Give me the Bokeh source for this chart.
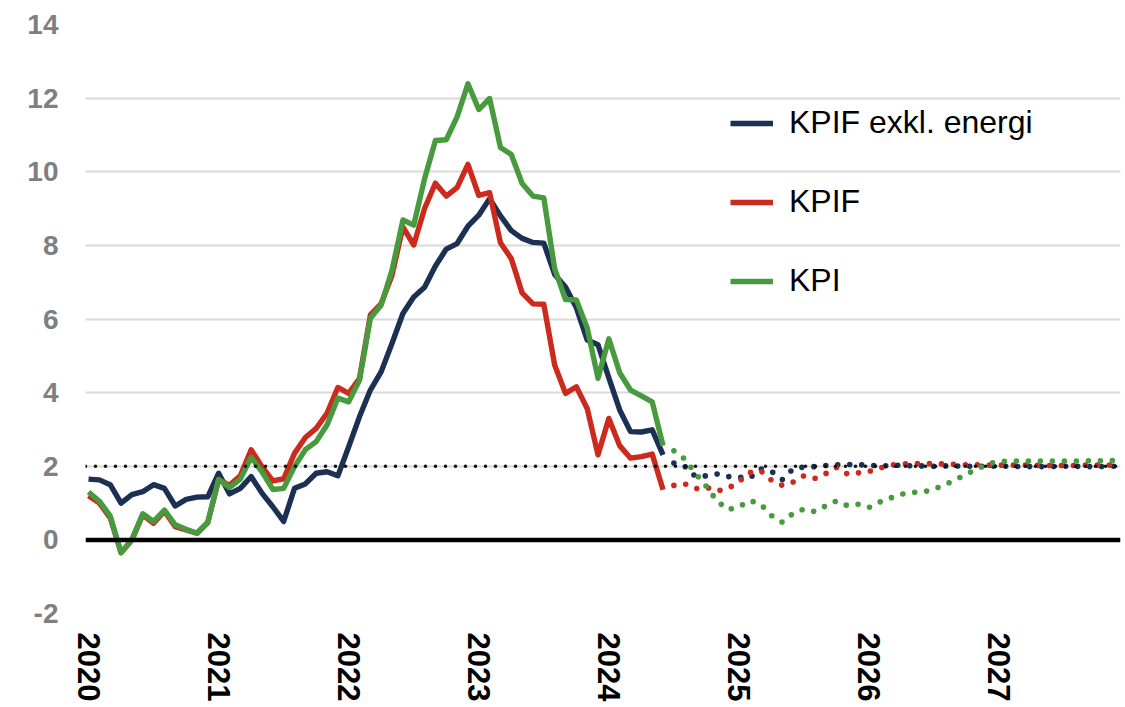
from bokeh.plotting import figure
from bokeh.models import Span, Legend, LegendItem, FixedTicker, Range1d
from bokeh.embed import file_html
from bokeh.resources import INLINE

# ---------------- data ----------------
YEARS = [2020, 2021, 2022, 2023, 2024, 2025, 2026, 2027]
Y_TICKS = [-2, 0, 2, 4, 6, 8, 10, 12, 14]
TARGET = 2.0

# Outcomes, monthly Jan 2020 - Jun 2024
kpif_exkl_energi = [
    1.65, 1.63, 1.50, 1.00, 1.23, 1.31, 1.50, 1.40, 0.92, 1.10, 1.16, 1.17,
    1.81, 1.25, 1.40, 1.72, 1.27, 0.90, 0.50, 1.40, 1.52, 1.81, 1.85, 1.74,
    2.53, 3.35, 4.07, 4.57, 5.34, 6.15, 6.60, 6.86, 7.44, 7.90, 8.05, 8.52,
    8.82, 9.27, 8.80, 8.40, 8.19, 8.08, 8.06, 7.21, 6.87, 6.31, 5.43, 5.30,
    4.40, 3.53, 2.94, 2.93, 2.99, 2.31,
]
kpif = [
    1.20, 1.00, 0.60, -0.35, 0.00, 0.68, 0.45, 0.78, 0.36, 0.27, 0.18, 0.47,
    1.64, 1.48, 1.74, 2.45, 1.99, 1.60, 1.66, 2.35, 2.78, 3.03, 3.44, 4.14,
    3.98, 4.39, 6.11, 6.42, 7.19, 8.50, 8.01, 9.00, 9.69, 9.34, 9.57, 10.20,
    9.36, 9.43, 8.07, 7.64, 6.71, 6.41, 6.40, 4.75, 3.98, 4.16, 3.57, 2.31,
    3.30, 2.56, 2.22, 2.26, 2.33, 1.36,
]
kpi = [
    1.30, 1.05, 0.65, -0.35, 0.00, 0.71, 0.50, 0.81, 0.41, 0.29, 0.18, 0.48,
    1.64, 1.42, 1.65, 2.24, 1.85, 1.37, 1.40, 1.99, 2.45, 2.67, 3.12, 3.85,
    3.75, 4.34, 6.02, 6.38, 7.33, 8.69, 8.55, 9.81, 10.85, 10.87, 11.49, 12.39,
    11.69, 11.99, 10.66, 10.47, 9.68, 9.34, 9.29, 7.37, 6.53, 6.52, 5.76, 4.39,
    5.46, 4.54, 4.07, 3.91, 3.75, 2.56,
]

# Forecasts, monthly Jul 2024 - Dec 2027
kpif_exkl_energi_prognos = [
    2.09, 2.00, 1.72, 1.74, 1.79, 1.72,
    1.70, 1.68, 1.93, 1.86, 1.64, 1.93, 1.98, 1.99, 2.02, 2.04, 2.05, 2.04,
    2.03, 2.01, 2.02, 2.03, 2.01, 2.01, 2.00, 2.01, 2.01, 2.00, 2.00, 2.00,
    2.00, 2.00, 1.99, 1.99, 1.99, 1.99, 2.00, 2.00, 1.99, 1.99, 2.00, 2.00,
]
kpif_prognos = [
    1.48, 1.52, 1.39, 1.43, 1.33, 1.40,
    1.58, 1.83, 1.88, 1.62, 1.48, 1.57, 1.74, 1.67, 1.80, 1.97, 1.79, 1.82,
    1.86, 1.95, 2.03, 2.06, 2.07, 2.07, 2.07, 2.06, 2.05, 2.04, 2.04, 2.03,
    2.03, 2.03, 2.03, 2.03, 2.02, 2.02, 2.02, 2.02, 2.03, 2.03, 2.03, 2.04,
]
kpi_prognos = [
    2.42, 2.20, 1.80, 1.45, 1.05, 0.82,
    0.90, 1.07, 0.97, 0.66, 0.48, 0.72, 0.84, 0.77, 0.92, 1.06, 0.93, 0.97,
    0.88, 1.03, 1.14, 1.24, 1.29, 1.30, 1.38, 1.50, 1.63, 1.79, 1.93, 2.07,
    2.13, 2.14, 2.14, 2.14, 2.14, 2.14, 2.14, 2.14, 2.15, 2.15, 2.15, 2.16,
]

LABELS = ["KPIF exkl. energi", "KPIF", "KPI"]
COLORS = ["#1b3052", "#cc2a1c", "#479b3e"]

# month index: 0 = Jan 2020
n_out = len(kpif)
x_out = list(range(n_out))
x_fc = list(range(n_out, n_out + len(kpif_prognos)))

FONT = "Liberation Sans"

p = figure(
    width=1121, height=705,
    output_backend="svg", toolbar_location=None,
    x_range=Range1d(-0.28, 95.2), y_range=Range1d(-2, 14),
    min_border_left=85, min_border_right=1, min_border_top=24, min_border_bottom=92,
)
p.outline_line_color = None
p.background_fill_color = "white"
p.border_fill_color = "white"

# grid
p.xgrid.grid_line_color = None
p.ygrid.ticker = FixedTicker(ticks=Y_TICKS)
p.ygrid.grid_line_color = "#d9d9d9"
p.ygrid.grid_line_width = 2

# axes
p.yaxis.ticker = FixedTicker(ticks=Y_TICKS)
p.yaxis.major_label_overrides = {t: str(t) for t in Y_TICKS}
p.yaxis.axis_line_color = None
p.yaxis.major_tick_line_color = None
p.yaxis.minor_tick_line_color = None
p.yaxis.major_tick_out = 0
p.yaxis.major_tick_in = 0
p.yaxis.major_label_standoff = 27
p.yaxis.major_label_text_font = FONT
p.yaxis.major_label_text_font_style = "bold"
p.yaxis.major_label_text_font_size = "28px"
p.yaxis.major_label_text_color = "#7f7f7f"

x_ticks = [12 * k for k in range(len(YEARS))]
p.xaxis.ticker = FixedTicker(ticks=x_ticks)
p.xaxis.major_label_overrides = {t: str(y) for t, y in zip(x_ticks, YEARS)}
p.xaxis.major_label_orientation = "vertical"
p.xaxis.axis_line_color = None
p.xaxis.major_tick_line_color = None
p.xaxis.minor_tick_line_color = None
p.xaxis.major_tick_out = 0
p.xaxis.major_tick_in = 0
p.xaxis.major_label_standoff = 19
p.xaxis.major_label_text_font = FONT
p.xaxis.major_label_text_font_style = "bold"
p.xaxis.major_label_text_font_size = "31px"
p.xaxis.major_label_text_color = "black"

# reference lines
p.add_layout(Span(location=0, dimension="width", line_color="black", line_width=4.5))
p.add_layout(Span(location=TARGET, dimension="width", line_color="#111111",
                  line_width=3.6, line_dash="0 10", line_cap="round"))

renderers = []
for out, fc, col in zip([kpif_exkl_energi, kpif, kpi],
                        [kpif_exkl_energi_prognos, kpif_prognos, kpi_prognos],
                        COLORS):
    r = p.line(x_out, out, line_color=col, line_width=5.4, line_join="round")
    p.line(x_fc, fc, line_color=col, line_width=5.6, line_dash="0 12", line_cap="round")
    renderers.append(r)

legend = Legend(
    items=[LegendItem(label=l, renderers=[r]) for l, r in zip(LABELS, renderers)],
    location=(645, 314),
    border_line_color=None, background_fill_alpha=0,
    padding=0, margin=0, spacing=42,
    glyph_width=43, glyph_height=30, label_height=30, label_standoff=16,
    label_text_font=FONT, label_text_font_size="32px", label_text_color="black",
)
p.add_layout(legend)

open("out.html", "w").write(file_html(p, INLINE))
